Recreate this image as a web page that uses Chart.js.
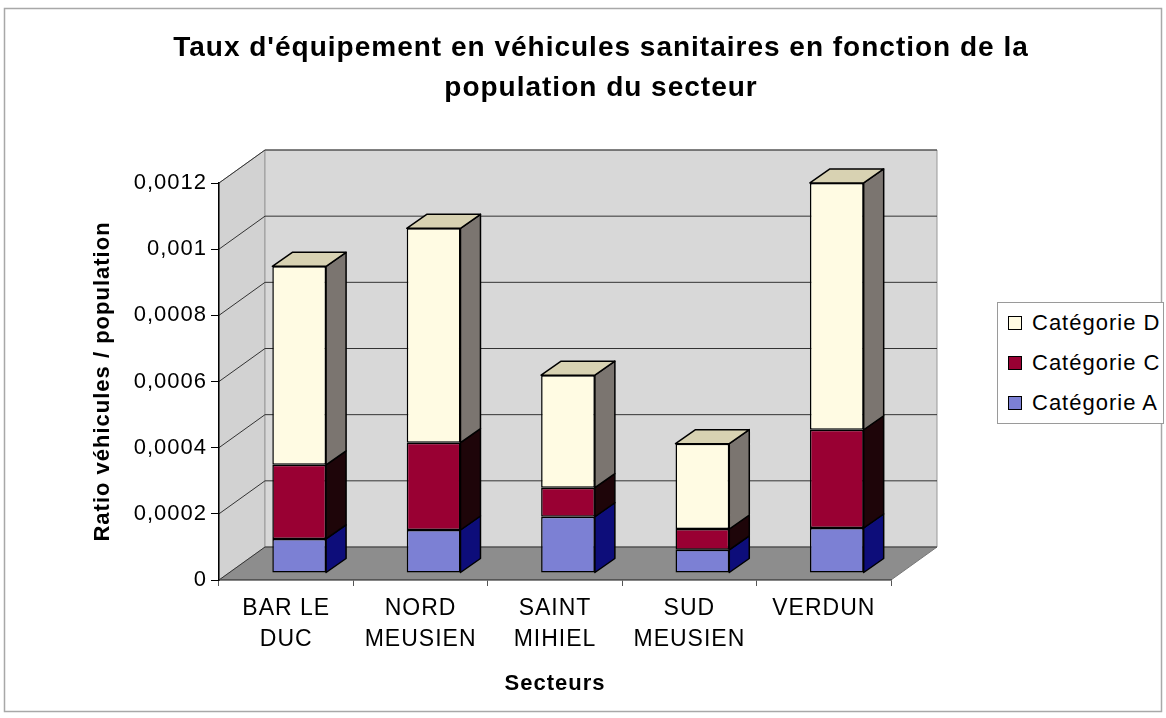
<!DOCTYPE html>
<html lang="fr">
<head>
<meta charset="utf-8">
<title>Taux d'équipement en véhicules sanitaires</title>
<script src="https://cdn.jsdelivr.net/npm/chart.js@4.4.1/dist/chart.umd.min.js"></script>
<style>
    html, body { margin: 0; padding: 0; background: #fff; }
    #wrap { position: relative; width: 1166px; height: 718px; }
    #legend {
        position: absolute; left: 997px; top: 302px; width: 165px;
        border: 1px solid #9a9a9a; background: #fff; color: #000;
        font: 22px "Liberation Sans", Arial, sans-serif; letter-spacing: 1px;
    }
    #legend div { height: 40px; display: flex; align-items: center; padding-left: 10px; }
    #legend span {
        display: inline-block; width: 14px; height: 14px; margin-right: 10px;
        border: 1.5px solid #000; box-sizing: border-box;
    }
</style>
</head>
<body>
<div id="wrap">
    <canvas id="chart1" width="1166" height="718"></canvas>
    <div id="legend"></div>
</div>
<script>
// data
const categories = [['BAR LE', 'DUC'], ['NORD', 'MEUSIEN'], ['SAINT', 'MIHIEL'], ['SUD', 'MEUSIEN'], ['VERDUN']];
const seriesNames = ['Catégorie A', 'Catégorie C', 'Catégorie D'];
const catA = [0.000103, 0.00013, 0.00017, 0.00007, 0.000136];
const catC = [0.000224, 0.000264, 0.000088, 0.000063, 0.000297];
const catD = [0.0006, 0.000648, 0.00034, 0.000258, 0.000746];
const yMax = 0.0012;
const yStep = 0.0002;

const FONT = '"Liberation Sans", Arial, sans-serif';

// fake 3D look
const WALL_DX = 46, WALL_DY = -33;
const BAR_DX = 13, BAR_DY = -7;
const SIDE_DX = 20, SIDE_DY = -14;
const frontColors = ['#7c80d4', '#990033', '#fffbe3'];
const sideColors = ['#0d0d7a', '#1e0509', '#7b7570'];
const topColor = '#d8d2b2';

function poly(ctx, pts, fill, stroke, lw) {
    ctx.beginPath();
    ctx.moveTo(pts[0][0], pts[0][1]);
    for (let i = 1; i < pts.length; i++) ctx.lineTo(pts[i][0], pts[i][1]);
    ctx.closePath();
    if (fill) { ctx.fillStyle = fill; ctx.fill(); }
    if (stroke) { ctx.strokeStyle = stroke; ctx.lineWidth = lw || 1; ctx.stroke(); }
}

const depthPlugin = {
    id: 'depth',
    beforeUpdate(chart) {
        chart.ctx.letterSpacing = '1px';
    },
    beforeDraw(chart) {
        const ctx = chart.ctx;
        const a = chart.chartArea;
        const y = chart.scales.y;
        ctx.letterSpacing = '1px';
        ctx.save();
        // outer frame
        ctx.strokeStyle = '#a8a8a8';
        ctx.lineWidth = 1.5;
        ctx.strokeRect(4.5, 8.5, 1157, 703);

        const L = a.left, R = a.right, T = a.top, B = a.bottom;
        // floor, side wall, back wall
        poly(ctx, [[L, B], [L + WALL_DX, B + WALL_DY], [R + WALL_DX, B + WALL_DY], [R, B]], '#8d8d8d', '#777', 1);
        poly(ctx, [[L, B], [L, T], [L + WALL_DX, T + WALL_DY], [L + WALL_DX, B + WALL_DY]], '#d2d2d2', '#999', 1);
        poly(ctx, [[L + WALL_DX, T + WALL_DY], [R + WALL_DX, T + WALL_DY], [R + WALL_DX, B + WALL_DY], [L + WALL_DX, B + WALL_DY]], '#d8d8d8', '#999', 1);

        // gridlines on the walls
        ctx.strokeStyle = '#333';
        ctx.lineWidth = 1;
        y.ticks.forEach(t => {
            const py = y.getPixelForValue(t.value);
            ctx.beginPath();
            ctx.moveTo(L, py);
            ctx.lineTo(L + WALL_DX, py + WALL_DY);
            ctx.lineTo(R + WALL_DX, py + WALL_DY);
            ctx.stroke();
        });
        ctx.restore();
    },
    beforeDatasetsDraw(chart) {
        chart.ctx.save();
        chart.ctx.translate(BAR_DX, BAR_DY);
    },
    afterDatasetsDraw(chart) {
        const ctx = chart.ctx;
        ctx.restore();
        ctx.save();
        ctx.lineJoin = 'round';
        const last = chart.data.datasets.length - 1;
        for (let i = 0; i <= last; i++) {
            chart.getDatasetMeta(i).data.forEach(bar => {
                const p = bar.getProps(['x', 'y', 'base', 'width'], true);
                const l = p.x - p.width / 2 + BAR_DX;
                const r = p.x + p.width / 2 + BAR_DX;
                const t = p.y + BAR_DY;
                const b = p.base + BAR_DY;
                poly(ctx, [[r, t], [r + SIDE_DX, t + SIDE_DY], [r + SIDE_DX, b + SIDE_DY], [r, b]], sideColors[i], '#000', 1.5);
                if (i === last) {
                    poly(ctx, [[l, t], [l + SIDE_DX, t + SIDE_DY], [r + SIDE_DX, t + SIDE_DY], [r, t]], topColor, '#000', 1.5);
                }
            });
        }
        ctx.restore();
    }
};

document.addEventListener('DOMContentLoaded', function() {
    const ctx1 = document.getElementById('chart1').getContext('2d');

    const chart1 = new Chart(ctx1, {
        type: 'bar',
        data: {
            labels: categories,
            datasets: [
                { label: seriesNames[0], data: catA, backgroundColor: frontColors[0] },
                { label: seriesNames[1], data: catC, backgroundColor: frontColors[1] },
                { label: seriesNames[2], data: catD, backgroundColor: frontColors[2] }
            ]
        },
        options: {
            responsive: false,
            animation: false,
            datasets: {
                bar: {
                    borderColor: '#000',
                    borderWidth: 1.5,
                    borderSkipped: false,
                    categoryPercentage: 1,
                    barPercentage: 0.4
                }
            },
            layout: { padding: { left: 36, right: 0, top: 0, bottom: 0 } },
            plugins: {
                legend: { display: false },
                tooltip: { enabled: false },
                title: {
                    display: true,
                    text: ["Taux d'équipement en véhicules sanitaires en fonction de la", 'population du secteur'],
                    color: '#000',
                    font: { family: FONT, size: 28, weight: 'bold', lineHeight: 40 / 28 },
                    padding: { top: 28, bottom: 75 }
                }
            },
            scales: {
                x: {
                    stacked: true,
                    grid: { offset: true, drawOnChartArea: false, tickLength: 6, color: '#555' },
                    border: { color: '#555', width: 1.5 },
                    ticks: {
                        color: '#000', padding: 7, maxRotation: 0, autoSkip: false,
                        font: { family: FONT, size: 23, lineHeight: 1.35 }
                    },
                    title: {
                        display: true, text: 'Secteurs', color: '#000',
                        font: { family: FONT, size: 22, weight: 'bold' },
                        padding: { top: 0, bottom: 21 }
                    },
                    afterFit(s) { s.height = 138; }
                },
                y: {
                    stacked: true,
                    min: 0,
                    max: yMax,
                    grid: { drawOnChartArea: false, tickLength: 8, color: '#000' },
                    border: { color: '#000', width: 1.5 },
                    ticks: {
                        stepSize: yStep, color: '#000', padding: 4,
                        font: { family: FONT, size: 22 },
                        callback: v => String(Math.round(v * 1e5) / 1e5).replace('.', ',')
                    },
                    title: {
                        display: true, text: 'Ratio véhicules / population', color: '#000',
                        font: { family: FONT, size: 22, weight: 'bold' },
                        padding: { top: 54, bottom: 0 }
                    },
                    afterFit(s) { s.width = 183; }
                },
                // empty axis that keeps room for the legend on the right
                yr: {
                    type: 'linear',
                    position: 'right',
                    grid: { display: false },
                    ticks: { display: false },
                    border: { display: false },
                    afterFit(s) { s.width = 275; }
                }
            }
        },
        plugins: [depthPlugin]
    });

    const legendBox = document.getElementById('legend');
    chart1.data.datasets.slice().reverse().forEach(ds => {
        const row = document.createElement('div');
        const sw = document.createElement('span');
        sw.style.background = ds.backgroundColor;
        row.appendChild(sw);
        row.appendChild(document.createTextNode(ds.label));
        legendBox.appendChild(row);
    });
});
</script>
</body>
</html>
